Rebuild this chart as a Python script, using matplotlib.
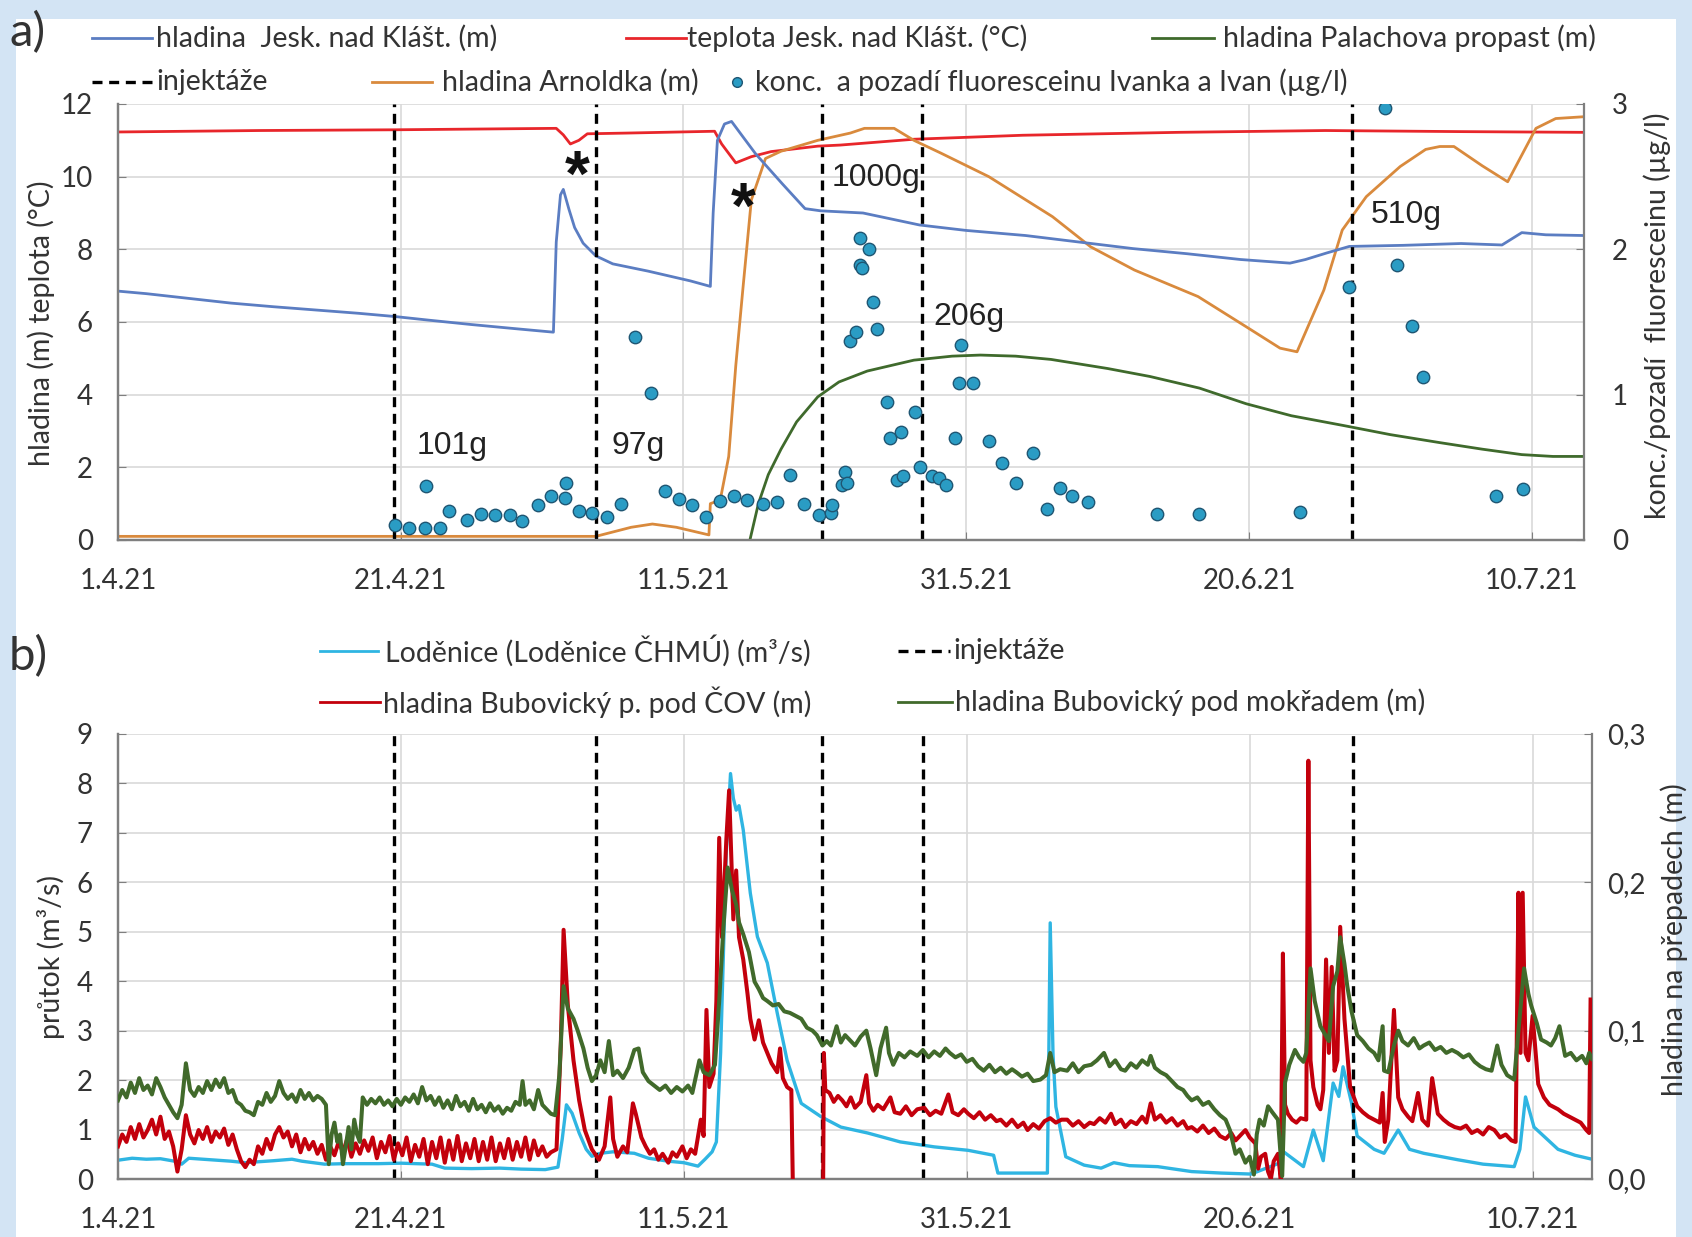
import matplotlib
matplotlib.use("Agg")
import matplotlib.pyplot as plt
from matplotlib.lines import Line2D
from matplotlib.patches import Rectangle
import pandas as pd

W, H = 1692, 1237
BASE = pd.Timestamp("2021-04-01")
NAN = float("nan")

# ---------- data (day since 1.4.21, value) ----------
tick_days = [0, 20, 40, 60, 80, 100]
tick_labels = ["1.4.21", "21.4.21", "11.5.21", "31.5.21", "20.6.21", "10.7.21"]
inj_days = [19.5, 33.8, 49.8, 56.9, 87.3]
inj_text = [("101g", 21.1, 2.6), ("97g", 34.9, 2.6), ("1000g", 50.5, 9.95),
            ("206g", 57.7, 6.15), ("510g", 88.6, 8.95)]
stars = [(32.5, 10.4), (44.2, 9.5)]

jesk_h = [(0, 6.85), (2, 6.78), (5, 6.65), (8, 6.52), (11, 6.42), (14, 6.33), (17, 6.24),
          (19.6, 6.15), (22, 6.05), (25, 5.93), (28, 5.82), (30.8, 5.72), (31.0, 8.2),
          (31.3, 9.5), (31.5, 9.65), (31.9, 9.1), (32.3, 8.6), (32.9, 8.17), (33.8, 7.82),
          (35, 7.6), (37.5, 7.4), (40.5, 7.13), (41.9, 6.98), (42.1, 9.0), (42.4, 11.0),
          (42.9, 11.45), (43.4, 11.52), (44.2, 11.1), (45.1, 10.63), (47.0, 9.8),
          (48.6, 9.12), (49.7, 9.06), (52.7, 9.0), (56.7, 8.67), (60, 8.52), (64.2, 8.38),
          (68, 8.2), (71.8, 8.02), (75.6, 7.88), (79.4, 7.72), (82.9, 7.62), (84.0, 7.72),
          (85.5, 7.9), (87.1, 8.08), (90.9, 8.11), (95, 8.16), (97.9, 8.12), (99.3, 8.46),
          (101, 8.4), (103.7, 8.38)]

jesk_t = [(0, 11.23), (10, 11.27), (19.5, 11.29), (31.0, 11.33), (31.5, 11.15), (32.0, 10.9),
          (32.6, 11.0), (33.2, 11.18), (36, 11.2), (42.2, 11.25), (42.7, 10.9), (43.7, 10.38),
          (44.8, 10.55), (46.2, 10.69), (49.5, 10.84), (51.1, 10.87), (56.3, 11.03),
          (64, 11.14), (75, 11.22), (85.4, 11.27), (95, 11.24), (103.7, 11.22)]

arnoldka = [(0, 0.1), (33.8, 0.1), (34.8, 0.2), (36.3, 0.35), (37.8, 0.44), (39.5, 0.35),
            (41.8, 0.14), (41.9, 1.0), (42.6, 1.1), (43.2, 2.3), (43.7, 4.8), (44.2, 6.9),
            (44.8, 9.36), (45.8, 10.5), (46.9, 10.7), (49.5, 11.0), (51.8, 11.2),
            (52.8, 11.33), (54.9, 11.33), (56.3, 11.0), (58.2, 10.65), (61.6, 10.0),
            (66.1, 8.9), (68.8, 8.07), (71.9, 7.43), (76.4, 6.7), (79.8, 5.87), (82.2, 5.28),
            (83.4, 5.18), (85.3, 6.88), (86.6, 8.53), (88.3, 9.45), (90.7, 10.28),
            (92.5, 10.75), (93.5, 10.83), (94.5, 10.83), (96.5, 10.3), (98.3, 9.86),
            (100.3, 11.33), (101.7, 11.6), (103.7, 11.65)]

palachova = [(44.0, -1.0), (44.7, 0.0), (45.3, 1.0), (46.0, 1.8), (46.9, 2.5), (48.0, 3.25),
             (49.5, 3.94), (51.0, 4.35), (53.0, 4.65), (56.3, 4.95), (59, 5.06), (61, 5.09),
             (63.5, 5.06), (66, 4.97), (70, 4.72), (73, 4.5), (76.5, 4.18), (79.8, 3.75),
             (83, 3.42), (86.7, 3.15), (90, 2.9), (93.5, 2.68), (96.5, 2.5), (99.3, 2.35),
             (101.5, 2.3), (103.7, 2.3)]

fluor = [(19.6, 0.10), (20.6, 0.08), (21.7, 0.085), (22.8, 0.08), (21.8, 0.37), (23.4, 0.20),
         (24.7, 0.14), (25.7, 0.18), (26.7, 0.17), (27.7, 0.17), (28.6, 0.13), (29.7, 0.24),
         (30.6, 0.30), (31.6, 0.29), (31.7, 0.39), (32.6, 0.20), (33.5, 0.185), (34.6, 0.16),
         (35.6, 0.25), (36.6, 1.40), (37.7, 1.01), (38.7, 0.34), (39.7, 0.28), (40.6, 0.24),
         (41.6, 0.16), (42.6, 0.27), (43.6, 0.30), (44.5, 0.275), (45.6, 0.25), (46.6, 0.26),
         (47.5, 0.45), (48.5, 0.25), (49.6, 0.17), (50.4, 0.185), (50.5, 0.24), (51.2, 0.38),
         (51.4, 0.47), (51.6, 0.39), (51.8, 1.37), (52.2, 1.43), (52.5, 2.08), (53.1, 2.0),
         (52.5, 1.89), (52.6, 1.87), (53.4, 1.64), (53.7, 1.45), (54.4, 0.95), (54.6, 0.70),
         (55.4, 0.745), (55.1, 0.41), (55.5, 0.44), (56.4, 0.88), (56.7, 0.50), (57.6, 0.44),
         (58.1, 0.43), (58.6, 0.38), (59.2, 0.70), (59.6, 1.34), (59.5, 1.08), (60.5, 1.08),
         (61.6, 0.68), (62.5, 0.53), (63.5, 0.39), (64.7, 0.60), (65.7, 0.21), (66.6, 0.36),
         (67.5, 0.30), (68.6, 0.26), (73.5, 0.18), (76.5, 0.18), (83.6, 0.19), (87.1, 1.74),
         (89.6, 2.97), (90.5, 1.89), (91.5, 1.47), (92.3, 1.12), (97.5, 0.30), (99.4, 0.35)]

lodenice_q = [(0, 0.38), (1, 0.42), (2, 0.40), (3, 0.41), (4, 0.36), (4.5, 0.30), (5, 0.42),
              (6, 0.40), (7, 0.38), (8, 0.36), (9, 0.33), (10, 0.35), (11, 0.37), (12.3, 0.40),
              (13, 0.36), (14.6, 0.30), (16, 0.31), (18.4, 0.31), (20, 0.32), (22.2, 0.30),
              (23.1, 0.22), (25, 0.21), (27, 0.22), (28.5, 0.20), (30.2, 0.19), (31.1, 0.24),
              (31.4, 0.8), (31.7, 1.5), (32.1, 1.33), (32.6, 0.93), (33.1, 0.6), (33.5, 0.46),
              (34.1, 0.52), (35, 0.55), (36.5, 0.52), (37.5, 0.42), (38.9, 0.36), (40, 0.33),
              (41.0, 0.26), (41.5, 0.40), (42.0, 0.55), (42.3, 0.75), (42.6, 2.55), (43.0, 6.6),
              (43.3, 8.2), (43.5, 7.7), (43.7, 7.46), (43.9, 7.55), (44.2, 7.06), (44.7, 5.78),
              (45.2, 4.9), (45.9, 4.37), (46.6, 3.36), (47.3, 2.4), (48.3, 1.53), (49.7, 1.26),
              (51.1, 1.05), (53.0, 0.93), (55.3, 0.75), (57.7, 0.65), (60.1, 0.58),
              (61.9, 0.48), (62.2, 0.12), (65.7, 0.12), (65.8, 2.5), (65.9, 5.18), (66.1, 2.5),
              (66.3, 1.46), (67.0, 0.45), (68.3, 0.28), (69.5, 0.22), (70.4, 0.33),
              (71.5, 0.27), (73.5, 0.25), (75.9, 0.15), (78, 0.12), (80.1, 0.10), (81, 0.2),
              (82.0, 0.31), (82.4, 0.55), (83.8, 0.25), (84.5, 0.99), (85.2, 0.37),
              (85.9, 1.94), (86.3, 1.67), (86.6, 2.27), (87.2, 1.54), (87.6, 0.87),
              (88.8, 0.6), (89.5, 0.52), (90.5, 0.99), (91.3, 0.6), (92.3, 0.52), (94.7, 0.39),
              (96.5, 0.3), (98.7, 0.25), (99.1, 0.6), (99.5, 1.66), (100.1, 1.05),
              (101.8, 0.6), (103, 0.48), (104.2, 0.4)]

cov_h = [(0.0, .022), (0.3, .030), (0.6, .025), (0.9, .035), (1.2, .027), (1.5, .037), (1.8, .028),
         (2.1, .033), (2.4, .040), (2.7, .030), (3.0, .042), (3.3, .027), (3.6, .032), (3.9, .022),
         (4.2, .005), (4.5, .020), (4.8, .043), (5.1, .030), (5.4, .024), (5.7, .033), (6.0, .027),
         (6.3, .035), (6.6, .025), (6.9, .032), (7.2, .028), (7.5, .034), (7.8, .023), (8.1, .030),
         (8.4, .020), (8.7, .012), (9.0, .008), (9.3, .013), (9.6, .010), (9.9, .022), (10.2, .017),
         (10.5, .027), (10.8, .020), (11.1, .030), (11.4, .035), (11.7, .028), (12.0, .032),
         (12.3, .022), (12.6, .030), (12.9, .018), (13.2, .027), (13.5, .020), (13.8, .025),
         (14.1, .017), (14.4, .023), (14.7, .013), (15.0, .022), (15.3, .016), (15.6, .025),
         (15.9, .018), (16.2, .027), (16.5, .015), (16.8, .024), (17.1, .017), (17.4, .026),
         (17.7, .019), (18.0, .028), (18.3, .014), (18.6, .025), (18.9, .018), (19.2, .029),
         (19.5, .013), (19.8, .024), (20.1, .016), (20.4, .028), (20.7, .012), (21.0, .023),
         (21.3, .015), (21.6, .027), (21.9, .010), (22.2, .025), (22.5, .014), (22.8, .028),
         (23.1, .011), (23.4, .026), (23.7, .013), (24.0, .029), (24.3, .012), (24.6, .024),
         (24.9, .014), (25.2, .027), (25.5, .012), (25.8, .025), (26.1, .013), (26.4, .028),
         (26.7, .012), (27.0, .024), (27.3, .014), (27.6, .027), (27.9, .013), (28.2, .025),
         (28.5, .015), (28.8, .028), (29.1, .013), (29.4, .026), (29.7, .016), (30.0, .022),
         (30.3, .015), (30.6, .018), (31.0, .020), (31.3, .090), (31.5, .168), (31.8, .117),
         (32.2, .080), (32.6, .053), (33.0, .033), (33.5, .020), (34.0, .013), (34.4, .022),
         (34.8, .055), (35.0, .027), (35.3, .015), (35.7, .022), (36.0, .018), (36.4, .051),
         (36.6, .044), (37.0, .028), (37.3, .022), (37.6, .017), (37.9, .020), (38.2, .013),
         (38.5, .017), (38.9, .011), (39.2, .018), (39.5, .015), (39.9, .022), (40.2, .014),
         (40.5, .020), (40.8, .017), (41.2, .040), (41.4, .029), (41.6, .114), (41.8, .062),
         (42.1, .071), (42.3, .120), (42.5, .230), (42.7, .163), (43.0, .228), (43.2, .262),
         (43.5, .175), (43.7, .208), (43.9, .163), (44.2, .148), (44.5, .125), (44.7, .108),
         (45.0, .094), (45.3, .107), (45.6, .092), (45.9, .085), (46.2, .078), (46.6, .072),
         (46.8, .088), (47.0, .068), (47.3, .062), (47.6, .060), (47.7, .0), (47.75, NAN),
         (49.85, .0), (49.9, .085), (50.0, .060), (50.3, .058), (50.6, .052), (50.9, .056),
         (51.2, .053), (51.5, .049), (51.8, .055), (52.1, .048), (52.5, .052), (52.9, .070),
         (53.1, .051), (53.4, .046), (53.7, .050), (54.1, .047), (54.6, .055), (54.9, .045),
         (55.3, .044), (55.7, .049), (56.1, .043), (56.5, .047), (57.0, .048), (57.4, .043),
         (57.8, .046), (58.2, .044), (58.7, .057), (59.0, .045), (59.4, .043), (59.8, .047),
         (60.1, .044), (60.5, .041), (60.9, .045), (61.3, .040), (61.7, .043), (62.1, .039),
         (62.4, .040), (62.8, .036), (63.2, .040), (63.6, .035), (64.0, .038), (64.3, .033),
         (64.7, .037), (65.1, .034), (65.5, .039), (65.9, .041), (66.3, .038), (66.7, .040),
         (67.1, .040), (67.5, .036), (67.9, .039), (68.3, .035), (68.7, .038), (69.0, .037),
         (69.4, .041), (69.8, .038), (70.2, .044), (70.5, .037), (70.9, .040), (71.2, .035),
         (71.6, .039), (72.0, .037), (72.4, .042), (72.7, .038), (73.0, .051), (73.3, .040),
         (73.7, .043), (74.1, .038), (74.5, .041), (74.9, .036), (75.3, .039), (75.6, .034),
         (75.9, .035), (76.3, .032), (76.7, .036), (77.1, .031), (77.5, .034), (77.9, .029),
         (78.3, .027), (78.7, .031), (79.0, .026), (79.4, .030), (79.7, .033), (80.0, .028),
         (80.4, .024), (80.6, .007), (80.8, .015), (81.1, .017), (81.3, .005), (81.5, .0),
         (81.7, .012), (82.0, .017), (82.2, .0), (82.35, .152), (82.5, .050), (82.7, .044),
         (83.0, .040), (83.3, .038), (83.6, .041), (84.0, .040), (84.15, .282), (84.3, .080),
         (84.5, .062), (84.8, .050), (85.0, .047), (85.2, .060), (85.4, .148), (85.6, .085),
         (85.8, .143), (86.0, .073), (86.2, .080), (86.4, .170), (86.7, .108), (87.1, .062),
         (87.6, .049), (88.0, .045), (88.4, .042), (88.8, .040), (89.2, .038), (89.4, .058),
         (89.55, .025), (89.8, .040), (90.2, .114), (90.5, .055), (90.8, .047), (91.2, .042),
         (91.5, .039), (91.9, .058), (92.2, .040), (92.6, .036), (92.9, .068), (93.3, .044),
         (93.7, .040), (94.1, .037), (94.5, .035), (94.9, .034), (95.3, .036), (95.7, .031),
         (96.1, .033), (96.5, .030), (96.9, .035), (97.3, .033), (97.7, .028), (98.1, .030),
         (98.5, .026), (98.8, .025), (99.0, .193), (99.15, .085), (99.3, .193), (99.5, .085),
         (99.7, .080), (100.0, .110), (100.4, .064), (100.8, .055), (101.2, .050), (101.8, .047),
         (102.2, .044), (102.6, .042), (103.0, .040), (103.4, .038), (103.8, .033), (104.0, .031),
         (104.1, .121)]

mokrad_h = [(0.0, .053), (0.3, .060), (0.6, .055), (0.9, .065), (1.2, .058), (1.5, .068), (1.8, .060),
            (2.1, .063), (2.4, .057), (2.7, .068), (3.0, .062), (3.3, .055), (3.6, .050), (3.9, .045),
            (4.2, .041), (4.5, .050), (4.8, .078), (5.1, .060), (5.4, .056), (5.7, .062), (6.0, .058),
            (6.3, .066), (6.6, .060), (6.9, .067), (7.2, .062), (7.5, .068), (7.8, .058), (8.1, .060),
            (8.4, .052), (8.7, .050), (9.0, .046), (9.3, .045), (9.6, .043), (9.9, .052), (10.2, .050),
            (10.5, .058), (10.8, .052), (11.1, .056), (11.4, .066), (11.7, .058), (12.0, .054),
            (12.3, .057), (12.6, .052), (12.9, .060), (13.2, .054), (13.5, .058), (13.8, .053),
            (14.1, .056), (14.4, .054), (14.7, .050), (14.9, .010), (15.1, .030), (15.3, .038),
            (15.5, .025), (15.7, .030), (15.9, .010), (16.1, .022), (16.3, .035), (16.5, .020),
            (16.7, .040), (16.9, .030), (17.1, .025), (17.3, .055), (17.6, .050), (17.9, .054),
            (18.2, .051), (18.5, .055), (18.8, .050), (19.1, .053), (19.4, .049), (19.7, .054),
            (20.0, .050), (20.3, .055), (20.6, .052), (20.9, .057), (21.2, .051), (21.5, .062),
            (21.8, .053), (22.1, .056), (22.4, .050), (22.7, .055), (23.0, .048), (23.3, .053),
            (23.6, .047), (23.9, .056), (24.2, .049), (24.5, .052), (24.8, .046), (25.1, .054),
            (25.4, .047), (25.7, .050), (26.0, .045), (26.3, .051), (26.6, .046), (26.9, .049),
            (27.2, .044), (27.5, .048), (27.8, .046), (28.1, .052), (28.4, .050), (28.6, .066),
            (28.8, .050), (29.1, .053), (29.4, .047), (29.7, .060), (30.0, .050), (30.3, .047),
            (30.6, .044), (30.9, .043), (31.2, .070), (31.5, .130), (31.8, .115), (32.2, .108),
            (32.5, .100), (32.9, .088), (33.2, .075), (33.5, .066), (33.8, .070), (34.1, .080),
            (34.4, .072), (34.7, .093), (35.0, .070), (35.3, .073), (35.7, .068), (36.1, .075),
            (36.5, .087), (36.8, .088), (37.1, .072), (37.5, .066), (37.9, .063), (38.3, .060),
            (38.7, .063), (39.1, .058), (39.5, .062), (39.9, .059), (40.3, .063), (40.6, .058),
            (41.1, .080), (41.4, .072), (41.8, .070), (42.2, .077), (42.5, .120), (42.8, .170),
            (43.1, .210), (43.4, .195), (43.7, .185), (43.9, .173), (44.2, .165), (44.6, .153),
            (45.0, .133), (45.3, .128), (45.6, .122), (45.9, .120), (46.3, .117), (46.7, .118),
            (47.1, .113), (47.5, .112), (47.9, .110), (48.3, .108), (48.7, .102), (49.1, .100),
            (49.4, .097), (49.8, .090), (50.1, .093), (50.4, .090), (50.8, .103), (51.1, .092),
            (51.4, .097), (51.7, .094), (52.1, .090), (52.5, .096), (52.9, .100), (53.2, .088),
            (53.6, .070), (53.9, .088), (54.3, .102), (54.5, .085), (54.8, .077), (55.2, .085),
            (55.6, .082), (56.0, .086), (56.5, .083), (56.9, .087), (57.3, .082), (57.7, .086),
            (58.1, .083), (58.5, .088), (58.8, .085), (59.2, .082), (59.6, .084), (60.0, .079),
            (60.4, .081), (60.8, .076), (61.2, .073), (61.6, .077), (62.0, .072), (62.4, .075),
            (62.8, .071), (63.2, .074), (63.5, .072), (63.9, .069), (64.3, .071), (64.7, .066),
            (65.2, .067), (65.6, .070), (65.9, .085), (66.2, .072), (66.6, .074), (67.1, .073),
            (67.5, .078), (67.9, .072), (68.3, .076), (68.8, .077), (69.2, .080), (69.7, .085),
            (70.1, .076), (70.5, .080), (70.9, .074), (71.2, .073), (71.6, .078), (72.0, .075),
            (72.4, .080), (72.8, .077), (73.0, .083), (73.3, .075), (73.7, .072), (74.1, .070),
            (74.5, .066), (74.9, .062), (75.3, .060), (75.6, .056), (75.9, .053), (76.3, .055),
            (76.7, .050), (77.1, .052), (77.5, .047), (77.9, .043), (78.3, .040), (78.6, .033),
            (79.0, .017), (79.3, .020), (79.7, .011), (80.0, .015), (80.3, .003), (80.5, .030),
            (80.7, .040), (81.0, .036), (81.3, .049), (81.6, .045), (82.0, .040), (82.2, .015),
            (82.3, .002), (82.5, .065), (82.8, .077), (83.2, .087), (83.5, .082), (83.8, .079),
            (84.0, .085), (84.3, .142), (84.6, .120), (85.0, .103), (85.3, .098), (85.6, .093),
            (85.9, .130), (86.2, .140), (86.4, .163), (86.7, .145), (86.9, .130), (87.2, .113),
            (87.6, .097), (88.0, .093), (88.4, .088), (88.8, .085), (89.1, .080), (89.4, .103),
            (89.5, .073), (89.8, .072), (90.2, .090), (90.5, .100), (90.8, .093), (91.2, .090),
            (91.6, .095), (92.0, .088), (92.3, .090), (92.7, .092), (93.1, .087), (93.5, .089),
            (93.9, .085), (94.3, .087), (94.7, .085), (95.1, .082), (95.5, .084), (95.9, .079),
            (96.3, .076), (96.7, .074), (97.1, .073), (97.5, .090), (97.8, .077), (98.2, .070),
            (98.7, .067), (99.0, .100), (99.4, .142), (99.7, .125), (99.9, .117), (100.3, .105),
            (100.6, .094), (101.0, .092), (101.3, .090), (101.6, .095), (101.9, .103), (102.3, .083),
            (102.7, .085), (103.1, .080), (103.5, .083), (103.8, .078), (104.0, .085), (104.2, .081)]

right_b_labels = ["0,0", "0,1", "0,2", "0,3"]

# ---------- colours ----------
C_BLUE = "#5b7dc2"
C_RED = "#e8262b"
C_ORANGE = "#d98a3d"
C_GREEN = "#3f6a2c"
C_DOT = "#2a9cc4"
C_CYAN = "#2fb5e2"
C_DRED = "#c3000c"
C_DGREEN = "#416a2b"
C_AX = "#7f7f7f"
C_GRID = "#d9d9d9"
C_TXT = "#333333"
DASH = (3.0, 2.0)

plt.rcParams["font.family"] = ["Lato", "DejaVu Sans"]


def to_dates(pairs):
    d, v = zip(*pairs)
    return BASE + pd.to_timedelta(list(d), unit="D"), list(v)


def day(d):
    return BASE + pd.Timedelta(days=d)


def fxy(x, y):
    return x / W, 1 - y / H


fig = plt.figure(figsize=(W / 100, H / 100), dpi=100, facecolor="#d3e4f4")
fig.patches.append(Rectangle((16 / W, 0), 1 - 32 / W, 1 - 19 / H, transform=fig.transFigure,
                             facecolor="white", edgecolor="none", zorder=-10))

ax1 = fig.add_axes([118 / W, 1 - 540 / H, (1584 - 118) / W, (540 - 104) / H])
ax1r = ax1.twinx()
ax2 = fig.add_axes([118 / W, 1 - 1179 / H, (1592 - 118) / W, (1179 - 734) / H])
ax2r = ax2.twinx()

ticks = [day(t) for t in tick_days]

for ax, xmax in ((ax1, 103.7), (ax2, 104.2)):
    ax.set_xlim(BASE, day(xmax))
    ax.set_xticks(ticks)
    ax.set_xticklabels(tick_labels)
    ax.grid(True, color=C_GRID, lw=1.2)
    ax.set_axisbelow(True)
    ax.tick_params(axis="x", direction="in", length=6, color=C_AX, labelsize=20,
                   labelcolor=C_TXT, pad=20)
    ax.tick_params(axis="y", direction="in", length=6, color=C_AX, labelsize=20,
                   labelcolor=C_TXT, pad=18)

ax1r.tick_params(axis="y", direction="in", length=6, color=C_AX, labelsize=20,
                 labelcolor=C_TXT, pad=20)
ax2r.tick_params(axis="y", direction="in", length=6, color=C_AX, labelsize=20,
                 labelcolor=C_TXT, pad=11)

for ax in (ax1, ax1r, ax2, ax2r):
    ax.spines["top"].set_visible(False)
    for s in ("left", "right", "bottom"):
        ax.spines[s].set_color(C_AX)
        ax.spines[s].set_linewidth(1.6)
ax1.spines["right"].set_visible(False)
ax2.spines["right"].set_visible(False)

# ---------- panel a ----------
ax1.set_ylim(0, 12)
ax1.set_yticks(range(0, 13, 2))
ax1r.set_ylim(0, 3)
ax1r.set_yticks([0, 1, 2, 3])

for pairs, col in ((jesk_t, C_RED), (arnoldka, C_ORANGE), (palachova, C_GREEN), (jesk_h, C_BLUE)):
    x, y = to_dates(pairs)
    ax1.plot(x, y, color=col, lw=2.0, zorder=3)

for d in inj_days:
    ax1.axvline(day(d), color="black", lw=2.4, dashes=DASH, zorder=4)

fx_, fv_ = to_dates(fluor)
ax1r.scatter(fx_, fv_, s=80, color=C_DOT, edgecolor="#1f5673", linewidth=1.0, zorder=5)

for txt, d, v in inj_text:
    ax1.text(day(d), v, txt, fontsize=23, family="Liberation Sans", color="#222222",
             ha="left", va="center", zorder=6)
for d, v in stars:
    ax1.text(day(d), v - 0.45, "*", fontsize=46, fontweight="bold", family="Liberation Sans",
             color="#111111", ha="center", va="center", zorder=6)

# ---------- panel b ----------
ax2.set_ylim(0, 9)
ax2.set_yticks(range(0, 10))
ax2r.set_ylim(0, 0.3)
ax2r.set_yticks([0, 0.1, 0.2, 0.3])
ax2r.set_yticklabels(right_b_labels)

x, y = to_dates(lodenice_q)
ax2.plot(x, y, color=C_CYAN, lw=2.4, zorder=3)
x, y = to_dates(cov_h)
ax2r.plot(x, y, color=C_DRED, lw=2.9, zorder=3)
x, y = to_dates(mokrad_h)
ax2r.plot(x, y, color=C_DGREEN, lw=2.9, zorder=4)
for d in inj_days:
    ax2r.axvline(day(d), color="black", lw=2.4, dashes=DASH, zorder=2)

# ---------- axis titles ----------
fig.text(*fxy(41, 323), "hladina (m) teplota (°C)", rotation=90, ha="center", va="center",
         fontsize=20.5, color=C_TXT)
fig.text(*fxy(1657, 316), "konc./pozadí  fluoresceinu (µg/l)", rotation=90, ha="center",
         va="center", fontsize=20.5, color=C_TXT)
fig.text(*fxy(51, 957), "průtok (m³/s)", rotation=90, ha="center", va="center",
         fontsize=20.5, color=C_TXT)
fig.text(*fxy(1674, 940), "hladina na přepadech (m)", rotation=90, ha="center", va="center",
         fontsize=20.5, color=C_TXT)

fig.text(*fxy(9, 33), "a)", fontsize=34, ha="left", va="center", color=C_TXT)
fig.text(*fxy(9, 657), "b)", fontsize=34, ha="left", va="center", color=C_TXT)


# ---------- legends (drawn by hand to follow the original layout) ----------
def leg_line(x1, x2, y, col, dashed=False):
    kw = dict(dashes=DASH) if dashed else {}
    fig.add_artist(Line2D([x1 / W, x2 / W], [1 - y / H, 1 - y / H], transform=fig.transFigure,
                          color=col, lw=2.4 if dashed else 2.0, **kw))


def leg_text(x, y, s):
    fig.text(*fxy(x, y), s, fontsize=20.5, ha="left", va="center", color=C_TXT)


leg_line(92, 152, 38, C_BLUE)
leg_text(156, 38, "hladina  Jesk. nad Klášt. (m)")
leg_line(626, 686, 38, C_RED)
leg_text(687, 38, "teplota Jesk. nad Klášt. (°C)")
leg_line(1152, 1214, 38, C_GREEN)
leg_text(1223, 38, "hladina Palachova propast (m)")
leg_line(92, 152, 82, "black", dashed=True)
leg_text(156, 82, "injektáže")
leg_line(372, 432, 82, C_ORANGE)
leg_text(442, 82, "hladina Arnoldka (m)")
fig.add_artist(Line2D([737 / W], [1 - 82 / H], transform=fig.transFigure, marker="o",
                      markersize=7, color=C_DOT, markeredgecolor="#1f5673", lw=0))
leg_text(755, 82, "konc.  a pozadí fluoresceinu Ivanka a Ivan (µg/l)")

leg_line(320, 378, 651, C_CYAN)
leg_text(385, 651, "Loděnice (Loděnice ČHMÚ) (m³/s)")
leg_line(898, 950, 651, "black", dashed=True)
leg_text(953, 651, "injektáže")
leg_line(320, 380, 702, C_DRED)
leg_text(383, 702, "hladina Bubovický p. pod ČOV (m)")
leg_line(898, 952, 702, C_DGREEN)
leg_text(955, 702, "hladina Bubovický pod mokřadem (m)")

fig.savefig("out.png", dpi=100, facecolor=fig.get_facecolor())
